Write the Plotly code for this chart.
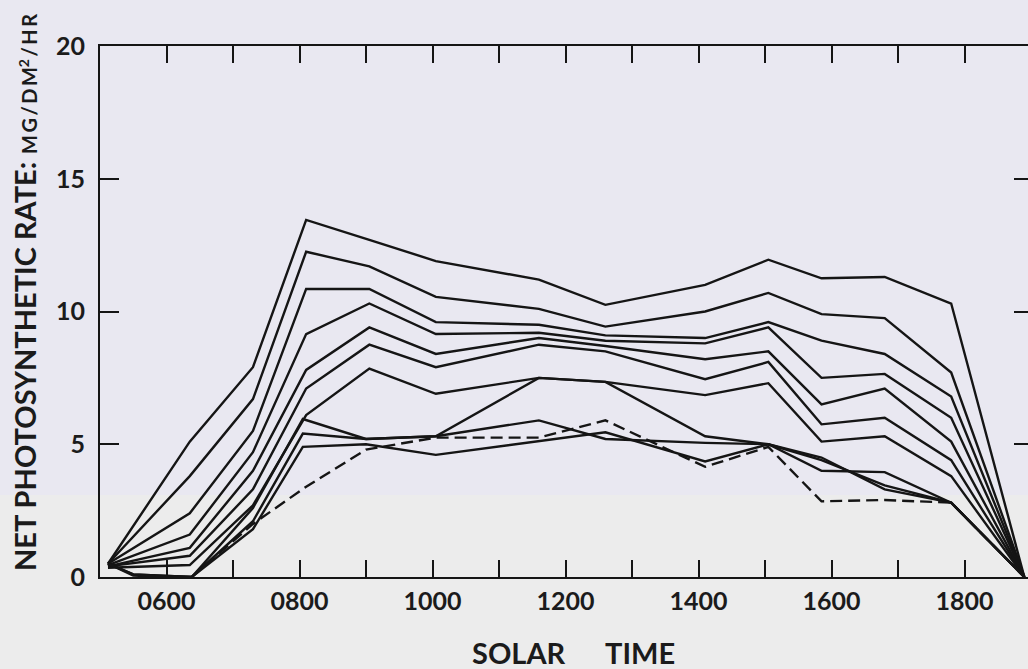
import plotly.graph_objects as go

# ---- data: net photosynthetic rate (mg/dm^2/hr) against solar time (hours) ----
t_upper = [5.12, 6.35, 7.3, 8.1, 9.05, 10.05, 11.6, 12.6, 14.1, 15.05, 15.85, 16.8, 17.8, 18.9]
curve_a = [0.5, 5.1, 7.9, 13.45, 12.7, 11.9, 11.2, 10.25, 11.0, 11.95, 11.25, 11.3, 10.3, 0.0]
curve_b = [0.5, 3.8, 6.7, 12.25, 11.7, 10.55, 10.1, 9.43, 10.0, 10.7, 9.9, 9.75, 7.7, 0.0]
curve_c = [0.5, 2.4, 5.5, 10.85, 10.85, 9.6, 9.5, 9.1, 9.0, 9.6, 8.9, 8.4, 6.8, 0.0]
curve_d = [0.45, 1.6, 4.7, 9.15, 10.3, 9.15, 9.2, 8.9, 8.8, 9.4, 7.5, 7.65, 6.0, 0.0]
curve_e = [0.4, 1.1, 4.0, 7.8, 9.4, 8.4, 9.0, 8.7, 8.2, 8.5, 6.5, 7.1, 5.1, 0.0]
curve_f = [0.4, 0.8, 3.3, 7.1, 8.75, 7.9, 8.75, 8.5, 7.45, 8.1, 5.75, 6.0, 4.4, 0.0]
curve_g = [0.35, 0.45, 2.7, 6.1, 7.85, 6.9, 7.5, 7.35, 6.85, 7.3, 5.1, 5.3, 3.8, 0.0]

t_lower = [5.12, 5.5, 6.38, 7.3, 8.05, 9.0, 10.05, 11.6, 12.6, 14.1, 15.05, 15.85, 16.8, 17.8, 18.9]
curve_h = [0.5, 0.1, 0.0, 2.6, 5.95, 5.2, 5.3, 7.5, 7.35, 5.3, 5.0, 4.0, 3.95, 2.8, 0.0]
curve_i = [0.5, 0.1, 0.0, 2.1, 5.4, 5.2, 5.3, 5.9, 5.2, 5.05, 5.0, 4.4, 3.45, 2.8, 0.0]
curve_j = [0.5, 0.05, 0.0, 1.8, 4.9, 5.0, 4.6, 5.1, 5.45, 4.35, 5.0, 4.5, 3.3, 2.8, 0.0]

t_dashed = [6.38, 7.3, 8.1, 9.0, 10.05, 11.6, 12.6, 14.1, 15.05, 15.85, 16.8, 17.8, 18.9]
curve_k = [0.0, 2.0, 3.4, 4.8, 5.25, 5.25, 5.9, 4.15, 4.9, 2.85, 2.9, 2.8, 0.0]

x_label_ticks = [6, 8, 10, 12, 14, 16, 18]
x_labels = ["0600", "0800", "1000", "1200", "1400", "1600", "1800"]
y_ticks = [0, 5, 10, 15, 20]
y_labels = ["0", "5", "10", "15", "20"]

# ---- geometry (pixels) ----
W, H = 1028, 669
L, R, T, B = 100, 0, 46, 92
plot_w = W - L - R
plot_h = H - T - B
px_per_hour = 66.5
x_max = 5 + plot_w / px_per_hour

INK = "#151515"
FONT = "Lato"


def px(xp):
    return (xp - L) / plot_w


def py(yp):
    return (H - B - yp) / plot_h


fig = go.Figure()

solid_sets = [
    (t_upper, curve_a), (t_upper, curve_b), (t_upper, curve_c), (t_upper, curve_d),
    (t_upper, curve_e), (t_upper, curve_f), (t_upper, curve_g),
    (t_lower, curve_h), (t_lower, curve_i), (t_lower, curve_j),
]
for tx, vy in solid_sets:
    fig.add_trace(go.Scatter(x=tx, y=vy, mode="lines",
                             line=dict(color=INK, width=2.4),
                             showlegend=False, hoverinfo="skip"))

fig.add_trace(go.Scatter(x=t_dashed, y=curve_k, mode="lines",
                         line=dict(color=INK, width=2.4, dash="12px,6px"),
                         showlegend=False, hoverinfo="skip"))

# invisible trace that carries the top and right tick axes
fig.add_trace(go.Scatter(x=[None], y=[None], xaxis="x2", yaxis="y2",
                         showlegend=False, hoverinfo="skip"))

tick_font = dict(family=FONT, size=25, color="#1b1b1b", weight=700)
hour_minor = dict(ticks="inside", ticklen=17, tickwidth=2, tickcolor=INK,
                  tick0=5, dtick=1, showgrid=False)

fig.update_layout(
    width=W, height=H,
    margin=dict(l=L, r=R, t=T, b=B, pad=0),
    paper_bgcolor="#e9e8f1",
    plot_bgcolor="rgba(0,0,0,0)",
    showlegend=False,
    xaxis=dict(
        range=[5, x_max], tickvals=x_label_ticks, ticktext=x_labels,
        ticks="inside", ticklen=17, tickwidth=2, tickcolor=INK,
        minor=hour_minor,
        showline=True, linewidth=2.2, linecolor=INK, mirror=False,
        showgrid=False, zeroline=False, tickfont=tick_font,
        ticklabelstandoff=1,
    ),
    xaxis2=dict(
        range=[5, x_max], overlaying="x", side="top",
        tickvals=list(range(6, 19)),
        ticks="inside", ticklen=17, tickwidth=2, tickcolor=INK,
        showline=True, linewidth=2.2, linecolor=INK,
        showgrid=False, zeroline=False, showticklabels=False,
    ),
    yaxis=dict(
        range=[0, 20], tickvals=y_ticks, ticktext=y_labels,
        ticks="inside", ticklen=19, tickwidth=2, tickcolor=INK,
        showline=True, linewidth=2.2, linecolor=INK, mirror=False,
        showgrid=False, zeroline=False, tickfont=tick_font,
        ticklabelstandoff=8,
    ),
    yaxis2=dict(
        range=[0, 20], overlaying="y", side="right", tickvals=[5, 10, 15],
        ticks="inside", ticklen=14, tickwidth=2, tickcolor=INK,
        showline=False, showgrid=False, zeroline=False, showticklabels=False,
    ),
    shapes=[
        # lighter lower band of the sheet
        dict(type="rect", xref="paper", yref="paper", layer="below",
             x0=-0.2, x1=1.1, y0=-0.3, y1=py(495),
             fillcolor="#ececec", line=dict(width=0)),
    ],
)

title_font = dict(family=FONT, size=29, color="#1b1b1b", weight=700)
fig.add_annotation(text="SOLAR", xref="paper", yref="paper", x=px(519), y=py(652),
                   showarrow=False, font=title_font, xanchor="center", yanchor="middle")
fig.add_annotation(text="TIME", xref="paper", yref="paper", x=px(640), y=py(652),
                   showarrow=False, font=title_font, xanchor="center", yanchor="middle")

fig.add_annotation(text="NET PHOTOSYNTHETIC RATE:", xref="paper", yref="paper",
                   x=px(24), y=py(367), textangle=-90, showarrow=False,
                   font=dict(family=FONT, size=29, color="#1b1b1b", weight=700),
                   xanchor="center", yanchor="middle")
fig.add_annotation(text="M\u2009G\u2009/\u2009D\u2009M<sup>2</sup>\u2009/\u2009H\u2009R",
                   xref="paper", yref="paper",
                   x=px(28), y=py(84), textangle=-90, showarrow=False,
                   font=dict(family=FONT, size=20, color="#1b1b1b", weight=700),
                   xanchor="center", yanchor="middle")

fig.write_html("out.html")
